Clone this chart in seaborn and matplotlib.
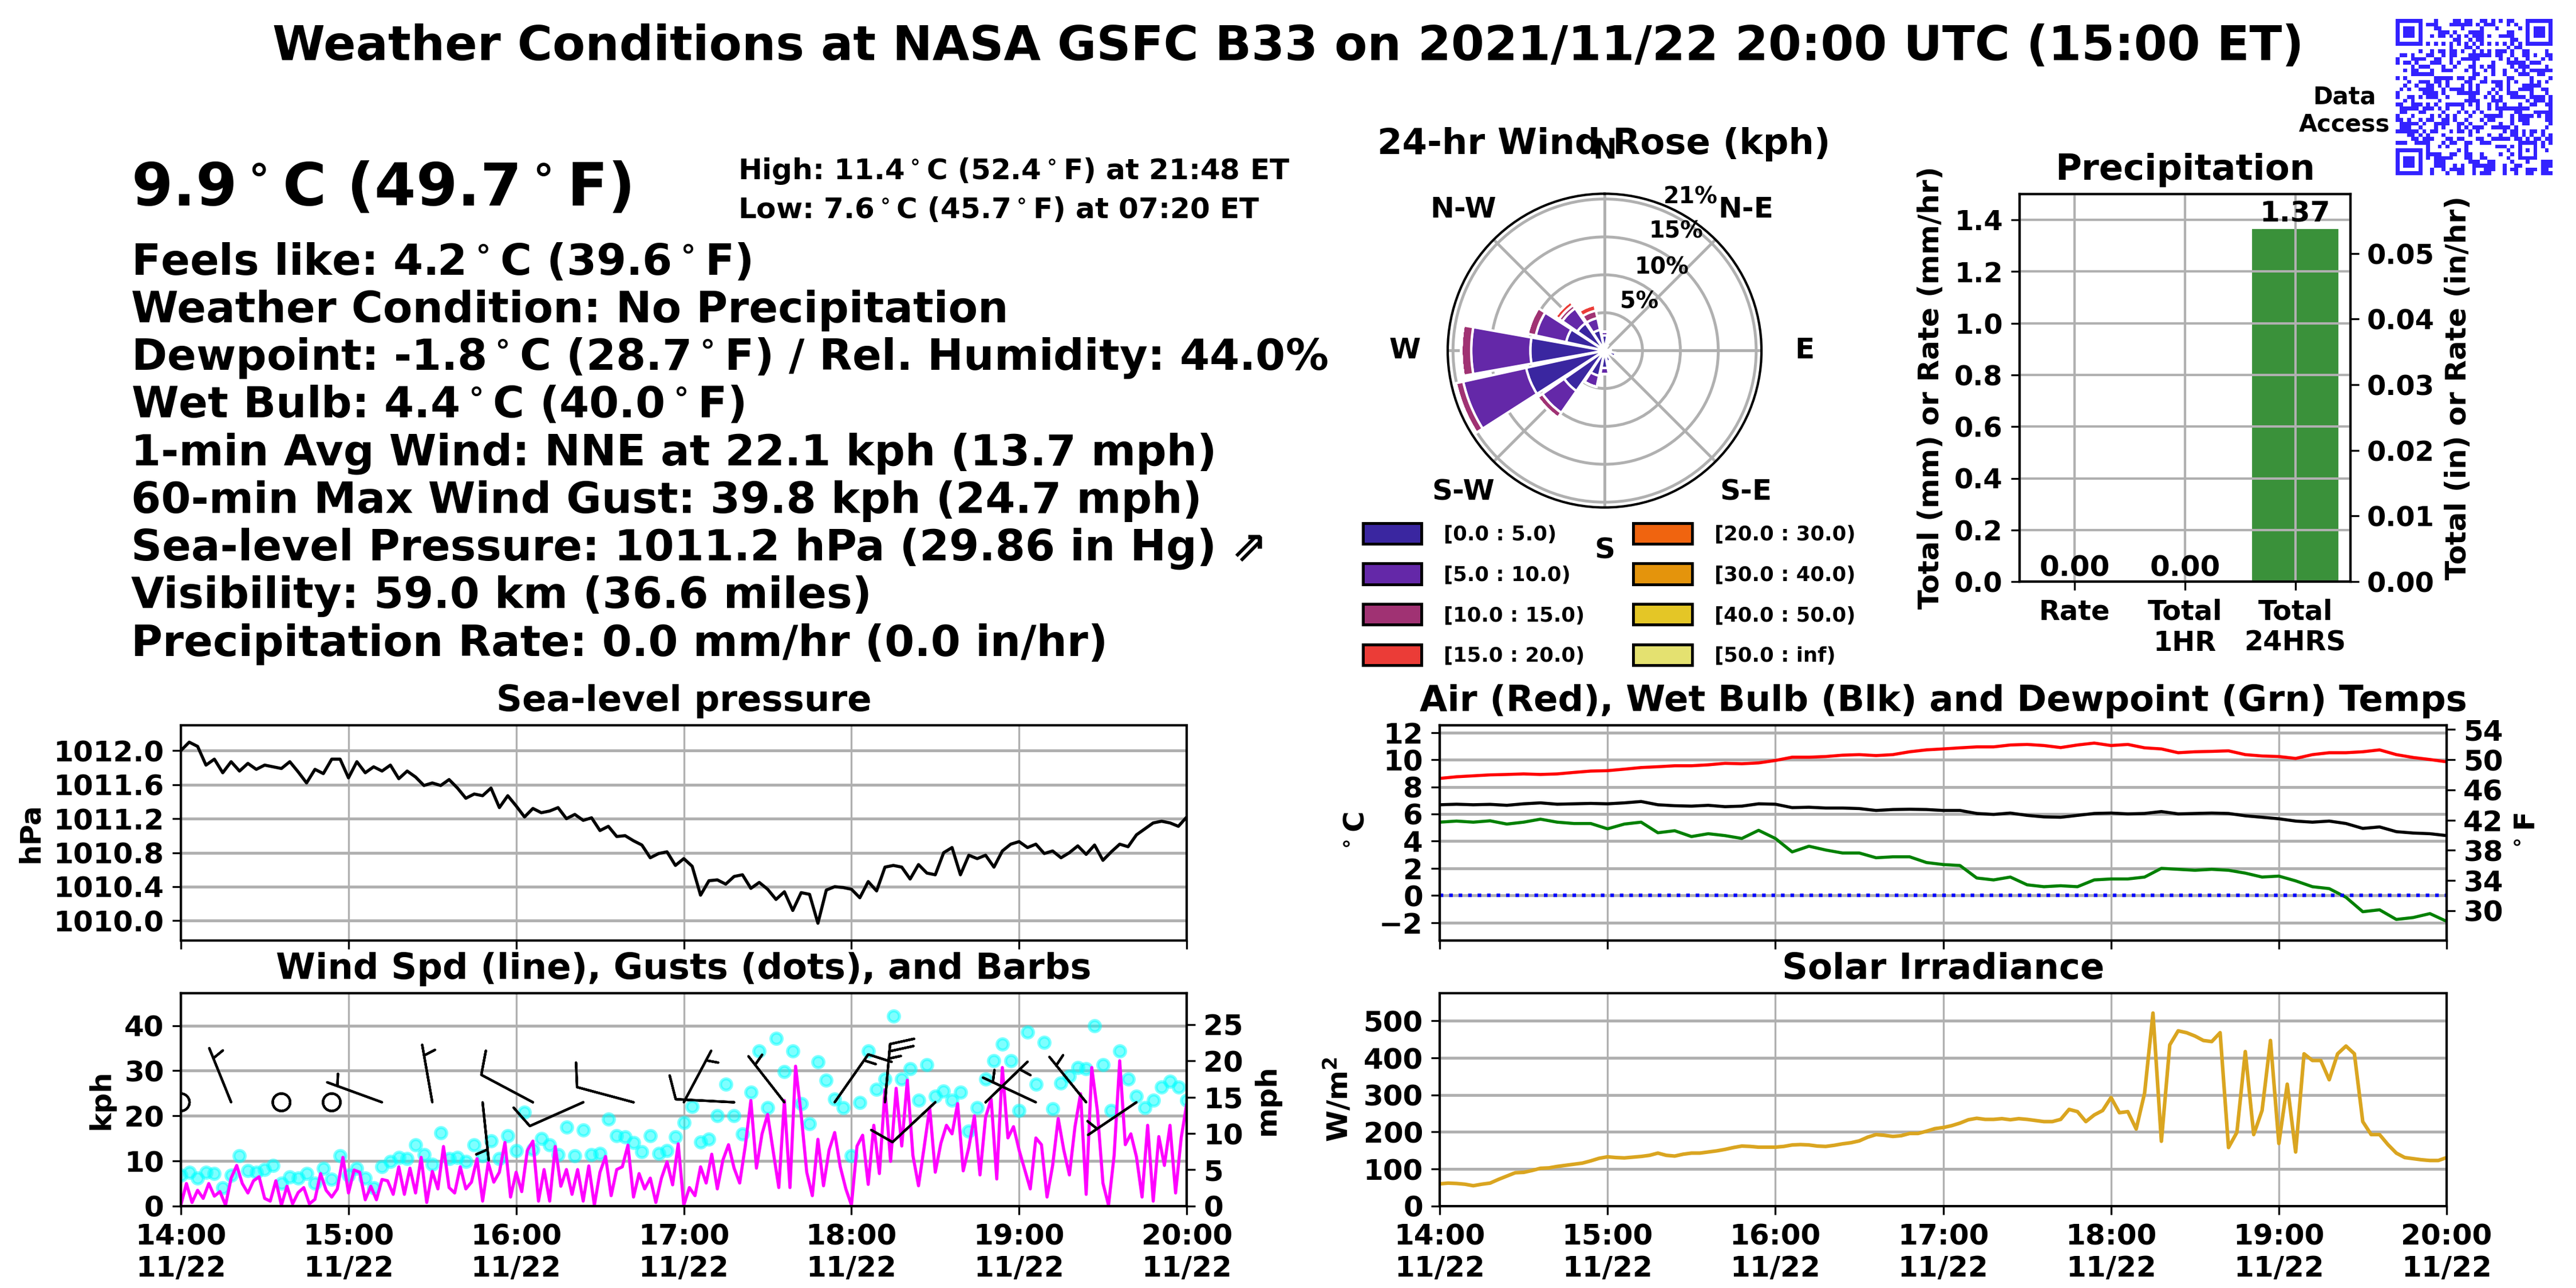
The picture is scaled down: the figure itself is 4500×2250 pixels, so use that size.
import numpy as np
import pandas as pd
import matplotlib
matplotlib.use('Agg')
import matplotlib.pyplot as plt
import matplotlib.dates as mdates
from matplotlib.colors import ListedColormap
from matplotlib.patches import Patch
from matplotlib.ticker import FormatStrFormatter
import seaborn as sns

# ---------------- data ----------------
title = 'Weather Conditions at NASA GSFC B33 on 2021/11/22 20:00 UTC (15:00 ET)'
now_temp = '9.9$^\\circ$C (49.7$^\\circ$F)'
hi_lo = ['High: 11.4$^\\circ$C (52.4$^\\circ$F) at 21:48 ET',
         'Low: 7.6$^\\circ$C (45.7$^\\circ$F) at 07:20 ET']
info_lines = ['Feels like: 4.2$^\\circ$C (39.6$^\\circ$F)',
              'Weather Condition: No Precipitation',
              'Dewpoint: -1.8$^\\circ$C (28.7$^\\circ$F) / Rel. Humidity: 44.0%',
              'Wet Bulb: 4.4$^\\circ$C (40.0$^\\circ$F)',
              '1-min Avg Wind: NNE at 22.1 kph (13.7 mph)',
              '60-min Max Wind Gust: 39.8 kph (24.7 mph)',
              'Sea-level Pressure: 1011.2 hPa (29.86 in Hg) \u21d7',
              'Visibility: 59.0 km (36.6 miles)',
              'Precipitation Rate: 0.0 mm/hr (0.0 in/hr)']

start = pd.Timestamp('2021-11-22 14:00')
end = pd.Timestamp('2021-11-22 20:00')

# sea-level pressure (hPa), every 3 min
pressure = [1012.00, 1012.10, 1012.05, 1011.83, 1011.90, 1011.74, 1011.87, 1011.76, 1011.85, 1011.78,
            1011.83, 1011.81, 1011.79, 1011.87, 1011.75, 1011.62, 1011.78, 1011.73, 1011.90, 1011.90,
            1011.68, 1011.87, 1011.74, 1011.81, 1011.76, 1011.83, 1011.67, 1011.76, 1011.69, 1011.59,
            1011.62, 1011.59, 1011.66, 1011.56, 1011.44, 1011.49, 1011.47, 1011.56, 1011.33, 1011.47,
            1011.35, 1011.22, 1011.32, 1011.27, 1011.29, 1011.33, 1011.20, 1011.25, 1011.18, 1011.21,
            1011.06, 1011.11, 1010.99, 1011.00, 1010.94, 1010.89, 1010.74, 1010.79, 1010.81, 1010.65,
            1010.73, 1010.64, 1010.30, 1010.47, 1010.48, 1010.43, 1010.52, 1010.54, 1010.38, 1010.45,
            1010.37, 1010.25, 1010.34, 1010.12, 1010.33, 1010.31, 1009.97, 1010.36, 1010.40, 1010.39,
            1010.37, 1010.27, 1010.46, 1010.35, 1010.63, 1010.65, 1010.63, 1010.49, 1010.66, 1010.56,
            1010.54, 1010.80, 1010.86, 1010.54, 1010.77, 1010.73, 1010.77, 1010.63, 1010.82, 1010.90,
            1010.93, 1010.86, 1010.90, 1010.79, 1010.82, 1010.74, 1010.80, 1010.88, 1010.78, 1010.89,
            1010.71, 1010.81, 1010.90, 1010.87, 1011.01, 1011.08, 1011.15, 1011.17, 1011.15, 1011.11,
            1011.22]

# 1-min average wind speed (kph), every 2 min
wind_kph = [0.2, 5.0, 0.8, 3.5, 1.7, 5.0, 2.2, 3.2, 0.2, 6.2, 9.0, 5.0, 2.9, 5.6, 6.5, 1.7, 1.1, 5.6, 0.2, 4.4,
            0.5, 3.0, 4.1, 0.5, 1.5, 7.2, 3.5, 2.0, 3.8, 10.8,
            2.9, 8.0, 7.5, 1.4, 4.4, 1.4, 5.9, 5.6, 2.6, 8.7, 2.6, 8.4, 2.9, 10.8, 0.8, 7.7, 3.8, 13.2, 4.1, 2.9,
            8.7, 3.8, 5.3, 10.5, 1.1, 9.6, 5.3, 7.5, 14.1, 2.0,
            7.5, 3.2, 12.3, 14.4, 1.1, 8.1, 1.1, 13.2, 4.4, 8.1, 2.6, 8.1, 1.1, 8.9, 0.2, 7.5, 11.0, 2.3, 8.1, 8.7,
            13.5, 2.0, 7.2, 3.8, 6.2, 0.8, 6.2, 9.8, 4.7, 13.8,
            0.2, 4.1, 2.3, 8.7, 5.1, 11.5, 3.8, 10.2, 13.6, 8.4, 5.1, 13.3, 23.4, 8.4, 16.0, 20.3, 12.1, 4.1, 23.4, 4.1,
            31.0, 20.3, 7.5, 2.3, 14.8, 4.5, 12.4, 16.3, 8.7, 3.8,
            0.2, 13.3, 15.7, 4.8, 17.9, 7.2, 25.8, 9.9, 26.1, 13.3, 27.9, 11.2, 4.5, 13.0, 21.8, 7.5, 13.9, 17.9, 16.0, 22.7,
            7.8, 13.0, 20.0, 6.9, 19.7, 23.7, 6.0, 30.7, 15.1, 17.6,
            12.4, 8.1, 3.8, 15.1, 13.6, 2.0, 9.0, 19.4, 12.4, 6.9, 17.6, 24.9, 2.6, 30.7, 21.2, 5.1, 0.2, 11.2, 32.2, 13.6,
            16.0, 10.9, 2.0, 17.9, 1.1, 15.4, 9.0, 17.9, 2.9, 15.1, 22.7]

# wind gusts (kph), every 3 min
gust_kph = [6.8, 7.5, 6.2, 7.5, 7.2, 4.1, 6.8, 11.1, 7.8, 7.5,
            8.1, 9.0, 5.0, 6.5, 6.2, 7.2, 5.0, 8.4, 5.9, 11.2,
            6.8, 8.4, 6.2, 4.1, 8.7, 9.9, 10.8, 10.5, 13.5, 11.4,
            9.3, 16.2, 10.5, 10.8, 9.9, 13.5, 11.1, 14.4, 10.5, 15.6,
            12.3, 20.8, 12.6, 15.0, 13.5, 11.4, 17.5, 11.1, 16.8, 11.4,
            11.7, 19.3, 15.6, 15.3, 14.1, 12.0, 15.6, 11.7, 12.3, 15.3,
            18.5, 22.1, 14.2, 14.8, 20.0, 27.0, 20.0, 16.0, 25.2, 34.3,
            21.8, 37.1, 29.8, 34.3, 22.7, 18.2, 31.9, 27.9, 23.7, 21.8,
            11.2, 23.0, 34.3, 25.8, 28.2, 42.1, 28.2, 30.4, 23.4, 31.3,
            24.3, 25.5, 23.4, 25.2, 16.6, 21.8, 28.2, 32.2, 35.9, 32.2,
            21.2, 38.6, 27.0, 36.3, 21.5, 27.3, 28.8, 30.7, 30.4, 39.9,
            31.3, 21.2, 34.3, 28.2, 24.3, 21.8, 23.4, 26.4, 27.6, 26.4,
            23.4]

# wind barbs every 18 min: direction wind comes from (deg) and barb speed
barb_dir = [0, 338, 0, 0, 290, 350, 174, 298, 246, 285, 28, 273, 322, 35, 5, 227, 46, 295, 321, 236]
barb_spd = [0, 5, 0, 0, 5, 5, 5, 10, 10, 10, 5, 10, 5, 15, 25, 10, 5, 5, 5, 5]

# temperatures (C), every 6 min
air_c = [8.62, 8.74, 8.81, 8.88, 8.91, 8.95, 8.91, 8.95, 9.06, 9.16,
         9.19, 9.30, 9.42, 9.48, 9.55, 9.55, 9.62, 9.73, 9.70, 9.76,
         9.94, 10.18, 10.18, 10.23, 10.33, 10.37, 10.30, 10.37, 10.58, 10.72,
         10.79, 10.87, 10.94, 10.94, 11.08, 11.12, 11.04, 10.89, 11.08, 11.22,
         11.04, 11.12, 10.87, 10.79, 10.51, 10.58, 10.61, 10.65, 10.37, 10.27,
         10.23, 10.09, 10.37, 10.51, 10.51, 10.58, 10.72, 10.37, 10.16, 10.01,
         9.84]
wetbulb_c = [6.68, 6.72, 6.68, 6.71, 6.64, 6.75, 6.82, 6.72, 6.75, 6.78,
             6.75, 6.82, 6.92, 6.68, 6.61, 6.58, 6.64, 6.54, 6.58, 6.75,
             6.72, 6.47, 6.50, 6.44, 6.44, 6.40, 6.26, 6.33, 6.35, 6.33,
             6.26, 6.26, 6.04, 5.97, 6.07, 5.90, 5.79, 5.76, 5.90, 6.04,
             6.07, 6.01, 6.04, 6.18, 6.01, 6.04, 6.07, 6.04, 5.87, 5.76,
             5.65, 5.48, 5.40, 5.48, 5.30, 4.94, 5.05, 4.70, 4.60, 4.55,
             4.41]
dewpoint_c = [5.40, 5.48, 5.40, 5.50, 5.26, 5.40, 5.62, 5.40, 5.30, 5.30,
              4.91, 5.26, 5.40, 4.62, 4.77, 4.34, 4.55, 4.41, 4.20, 4.80,
              4.20, 3.21, 3.63, 3.35, 3.13, 3.13, 2.78, 2.85, 2.85, 2.43,
              2.28, 2.21, 1.29, 1.15, 1.36, 0.79, 0.65, 0.72, 0.65, 1.15,
              1.22, 1.22, 1.36, 2.00, 1.93, 1.86, 1.93, 1.86, 1.65, 1.36,
              1.43, 1.08, 0.65, 0.51, -0.13, -1.19, -1.05, -1.76, -1.62, -1.33,
              -1.90]

# solar irradiance (W/m2), every 3 min
solar = [60, 62, 61, 59, 55, 59, 62, 72, 81, 90,
         91, 96, 102, 103, 107, 110, 113, 116, 122, 129,
         133, 131, 130, 132, 134, 137, 143, 137, 135, 140,
         143, 143, 146, 149, 153, 158, 162, 161, 159, 159,
         159, 161, 165, 166, 165, 162, 161, 164, 168, 171,
         176, 186, 193, 191, 188, 190, 196, 196, 202, 209,
         212, 217, 224, 233, 237, 234, 234, 236, 233, 236,
         234, 231, 228, 228, 234, 261, 255, 228, 246, 258,
         293, 252, 255, 208, 305, 521, 175, 435, 473, 468,
         459, 447, 444, 468, 158, 199, 417, 193, 258, 447,
         169, 329, 146, 411, 393, 393, 341, 411, 432, 411,
         228, 193, 193, 166, 143, 131, 128, 125, 123, 123,
         131]

# wind rose: % of time per direction sector (N, NNE, ... NNW) per speed bin
rose_dirs = ['N', 'N-E', 'E', 'S-E', 'S', 'S-W', 'W', 'N-W']
rose_bins = ['[0.0 : 5.0)', '[5.0 : 10.0)', '[10.0 : 15.0)', '[15.0 : 20.0)',
             '[20.0 : 30.0)', '[30.0 : 40.0)', '[40.0 : 50.0)', '[50.0 : inf)']
rose_colors = ['#3a26a0', '#6428a8', '#a03273', '#eb3c37', '#f0640f', '#e4940c', '#e4c626', '#e4e170']
rose_0_5 = [2.0, 0.8, 0.3, 0.3, 0.8, 1.5, 0.5, 1.5, 2.3, 3.4, 6.5, 10.6, 9.8, 5.2, 4.4, 2.8]
rose_5_10 = [0.5, 0.0, 0.0, 0.0, 0.0, 0.3, 0.0, 0.3, 0.8, 1.5, 3.5, 8.5, 7.8, 4.1, 2.4, 1.6]
rose_10_15 = [0.0, 0.0, 0.0, 0.0, 0.0, 0.0, 0.0, 0.0, 0.0, 0.0, 0.8, 1.0, 1.3, 1.1, 0.5, 1.0]
rose_15_20 = [0.0, 0.0, 0.0, 0.0, 0.0, 0.0, 0.0, 0.0, 0.0, 0.0, 0.0, 0.0, 0.0, 0.0, 0.6, 0.8]
rose_20_30 = [0.0] * 16
rose_30_40 = [0.0] * 16
rose_40_50 = [0.0] * 16
rose_50_up = [0.0] * 16
rose_ticks = [5, 10, 15, 20]
rose_tick_labels = ['5%', '10%', '15%', '21%']

# precipitation
precip_cats = ['Rate', 'Total\n1HR', 'Total\n24HRS']
precip_mm = [0.00, 0.00, 1.37]

# QR code modules ("Data Access")
qr_rows = [
    "1111111 000 1 0000 11 0 11 00 11 0 1 0 1 0 11 000 1111111",
    "1000001 0 111 000 1111 11 0 1 0 111 000 1 0 1 00 1000001",
    "1011101 000 11 00000 1 0000 1 000 1 00000 1 0 1011101",
    "1011101 0000 111 0 1 000 1111 000000 11 000 1011101",
    "1011101 00 1 0 11 0 1 0 1 0 1 0 111 0 1 00 1111 000 1011101",
    "1000001 00000000 11 00 1 0 11 0000000 11 00 1000001",
    "1111111 0 1010101010101010101010101 0 1111111",
    "00000000000000 1 000 11 0 1 0000000 1 0 11 00000000",
    "000000 1 00 1 0 11 0 11 0 1 00 1 0 1 0 1 0 111 0 1 00 11 0000 1 0",
    "0 11 0 1 000 11 00 1 0 11 000 111111 0 11 00 1 00 11 0 1 00 11",
    "1 000 1111 00 11 00 1 00 11111 00000 1 0 1 0 1 00 1 000 1 0 1",
    "1 0 11 0 1 000 111 00 1 0 1 000 1 0000 1 000 11111 0 111 000",
    "0000 1 0 111 000 1 00 1 000 11 0 1 0 11 0000 1 0 111 0000 1 0",
    "00 1 0 11 000 1 00 111 000 1 0 1 00 1 0 1 00 1 00 1 0 1 0 111111",
    "0000 111111 0000000000 11 000 1 00 1 000 111 00 11 00",
    "1 0 1 0000000 11111 0 11 0 11 00 1 00000 11 0000 1 0000 1",
    "000 1 00 111 0 11 0 1 0000 11 00 11 0 111 0 1 0 1 000 1 0 1 0 1 0",
    "00 1 00 1 00 11 0 1 0 1 000 1 0 1 0 1 0000 11 0 1 000 11111 000",
    "0 1 0 1 00 1111 00 1 0 1111 0 1 0 1 000 1 0 1 0 1 00 1111 00 11 0",
    "1 000000 1111 0 1 000 111111 00 1 0 1 00 111 000 1 000 1 0",
    "1 00 11 0 1 0 111 00 1 00000 11 00 1 0 1 0 1 00 1111 0 1111 0 1",
    "00 1 0 1 000000 1 000000 1111 000 111 000000 1 0 111 0 1",
    "11 00 111 0 1 0 1 00 11111 0 1 0 1 00 1 0 1 0 1 000 1 00 11 00 11",
    "0 11111 0 111 0 1 0 1 000 1 000 1 00 1 0 111111111 00000 1",
    "0 11 000 11 0000 1 000 1 0 1 0 1 0 1 0000 1 000 11 000 11111",
    "1 000 1 0000 1 0 1 0 1 0 1 000 1 000 11111 00 1 0 1111 0 1 0 11",
    "11 0 1 00 1 0 11 00 11 0 1 00 1 000 1 0 11 0000 1 0 111 0000 11",
    "0 11111 0 1 00 1111 00 11 0 1 000 1 000 1 00 1 00 11 00000 1",
    "0 111 00 1 000 1 0 1 000 1 0 1 0 111 00 11111 0 1 0000000 1 0",
    "111111 0 1 0 11 000 1 0 11 0 1 0 1 000000 1 0 11 0 1 0 11 0 1 00",
    "000 11 0 1 0 1 000 1 000000 1 0000 1 00 1 00 11 0 1 0 1 00 1 0 1",
    "0000 11 0 111 000 11 0 11 000 11 00 11111 0 11 0 1 0 11 0 11",
    "111 00 1111 000 1 0 11 00 11 00 111 0000000 11111 0 1 0 1",
    "00000000 1 00 1 0 1 0000 1 0000000 111 0 1 0 1 000 1 0 1 00",
    "1111111 0 1 0000000 1 0 1 0000000000 1 00 10101 0 0 1 0",
    "1000001 0 1111 00 11 00 11 00 1 0000 1 00 1 0 10001 0000",
    "1011101 0 1 0 11111 000 11 00 11 00000 1 00 11111 0000",
    "1011101 000 111 000000 111 00 11 0000 1 000 1 000 111",
    "1011101 000 111 00 1 0 1 00 111111 00 1 00 11 00000 111",
    "1000001 00 1 00 1 0 1111 00 1 00 111 00 1 0 11 00 111 0 11 0",
    "1111111 00 1 000 1 00 11 00 1 0 111 000 1 00 1 00 11 00 111",
]

# ---------------- style ----------------
sns.set_style('ticks')
plt.rcParams['font.family'] = ['DejaVu Sans']
plt.rcParams['font.weight'] = 'bold'
plt.rcParams['axes.titleweight'] = 'bold'
plt.rcParams['axes.labelweight'] = 'bold'
plt.rcParams['text.color'] = 'black'
plt.rcParams['axes.labelcolor'] = 'black'
plt.rcParams['axes.edgecolor'] = 'black'
plt.rcParams['xtick.color'] = 'black'
plt.rcParams['ytick.color'] = 'black'
plt.rcParams['axes.linewidth'] = 1.0
plt.rcParams['xtick.labelsize'] = 12
plt.rcParams['ytick.labelsize'] = 12
plt.rcParams['axes.titlesize'] = 15
plt.rcParams['axes.labelsize'] = 12
plt.rcParams['mathtext.default'] = 'bf'

GRID = '#b0b0b0'


def time_axis(ax, labels):
    ax.set_xlim(start, end)
    ax.xaxis.set_major_locator(mdates.HourLocator())
    ax.xaxis.set_major_formatter(mdates.DateFormatter('%H:%M\n%m/%d'))
    ax.grid(axis='x', color=GRID, lw=0.8)
    ax.grid(axis='y', color=GRID, lw=1.2)
    ax.tick_params(labelbottom=labels)
    ax.set_xlabel('')


fig = plt.figure(figsize=(15, 7.5), dpi=300)

# ---------------- header text ----------------
fig.text(0.5, 0.964, title, ha='center', va='center', fontsize=20)
fig.text(0.051, 0.853, now_temp, ha='left', va='center', fontsize=25)
fig.text(0.2865, 0.867, hi_lo[0], ha='left', va='center', fontsize=12)
fig.text(0.2865, 0.837, hi_lo[1], ha='left', va='center', fontsize=12)
for i, line in enumerate(info_lines):
    fig.text(0.051, 0.796 - i * 0.0370, line, ha='left', va='center', fontsize=18)
fig.text(0.910, 0.914, 'Data\nAccess', ha='center', va='center', fontsize=10, multialignment='center')

# ---------------- QR code ----------------
ax_qr = fig.add_axes([0.930, 0.864, 0.0607, 0.1213])
qr = np.array([[int(c) for c in r.replace(' ', '').ljust(41, '0')[:41]] for r in qr_rows])
ax_qr.imshow(qr, cmap=ListedColormap(['white', '#3322ff']), interpolation='nearest', aspect='auto')
ax_qr.axis('off')

# ---------------- wind rose ----------------
ax_r = fig.add_axes([0.562, 0.606, 0.1218, 0.2436], projection='polar')
ax_r.set_theta_zero_location('N')
ax_r.set_theta_direction(-1)
theta = np.deg2rad(np.arange(16) * 22.5)
bottom = np.zeros(16)
rose_table = [rose_0_5, rose_5_10, rose_10_15, rose_15_20, rose_20_30, rose_30_40, rose_40_50, rose_50_up]
for vals, col in zip(rose_table, rose_colors):
    vals = np.array(vals)
    ax_r.bar(theta, vals, width=np.deg2rad(22.5) * 0.9, bottom=bottom, color=col,
             edgecolor='white', linewidth=1.0, zorder=3)
    bottom = bottom + vals
ax_r.set_ylim(0, 20.7)
ax_r.set_yticks(rose_ticks)
ax_r.set_yticklabels([])
ax_r.set_xticks(np.deg2rad(np.arange(8) * 45))
ax_r.set_xticklabels(rose_dirs)
ax_r.tick_params(axis='x', pad=7.5, labelsize=12)
ax_r.grid(color=GRID, lw=1.2)
for ang, r, lab in zip([35.5, 34.7, 30.9, 29.2], [7.85, 13.3, 18.3, 23.2], rose_tick_labels):
    ax_r.text(np.deg2rad(ang), r, lab, ha='center', va='center', fontsize=9.5, clip_on=False, zorder=5)
fig.text(0.6225, 0.888, '24-hr Wind Rose (kph)', ha='center', va='center', fontsize=15)
handles = [Patch(facecolor=c, edgecolor='black', lw=1.2, label=l) for c, l in zip(rose_colors, rose_bins)]
fig.legend(handles=handles, ncol=2, loc='upper left', bbox_to_anchor=(0.529, 0.594),
           frameon=False, fontsize=8.5, handlelength=2.9, handleheight=1.2, handletextpad=1.1,
           labelspacing=0.95, columnspacing=2.4, borderpad=0, borderaxespad=0)

# ---------------- precipitation ----------------
ax_pr = fig.add_axes([0.784, 0.5484, 0.1284, 0.301])
sns.barplot(x=precip_cats, y=precip_mm, color='#3a913a', saturation=1, width=0.8, ax=ax_pr)
ax_pr.bar_label(ax_pr.containers[0], fmt='%.2f', fontsize=12, padding=0)
ax_pr.set_ylim(0, 1.5)
ax_pr.set_yticks(np.arange(0, 1.41, 0.2))
ax_pr.yaxis.set_major_formatter(FormatStrFormatter('%.1f'))
ax_pr.set_axisbelow(False)
ax_pr.grid(True, color=GRID, lw=1.0)
ax_pr.tick_params(labelsize=11.5)
ax_pr.set_title('Precipitation', fontsize=15)
ax_pr.set_ylabel('Total (mm) or Rate (mm/hr)', fontsize=12)
ax_pr2 = ax_pr.twinx()
ax_pr2.set_ylim(0, 1.5 / 25.4)
ax_pr2.set_yticks(np.arange(0, 0.051, 0.01))
ax_pr2.yaxis.set_major_formatter(FormatStrFormatter('%.2f'))
ax_pr2.tick_params(labelsize=11.5)
ax_pr2.set_ylabel('Total (in) or Rate (in/hr)', fontsize=12)

# ---------------- time axes ----------------
t2 = pd.date_range(start, end, freq='2min')
t3 = pd.date_range(start, end, freq='3min')
t6 = pd.date_range(start, end, freq='6min')
t18 = pd.date_range(start, periods=len(barb_dir), freq='18min')

# sea-level pressure
ax_p = fig.add_axes([0.0702, 0.270, 0.3905, 0.167])
sns.lineplot(x=t3, y=pressure, color='black', lw=1.3, ax=ax_p)
ax_p.set_ylim(1009.77, 1012.30)
ax_p.set_yticks(np.arange(1010.0, 1012.01, 0.4))
ax_p.yaxis.set_major_formatter(FormatStrFormatter('%.1f'))
ax_p.set_ylabel('hPa')
ax_p.set_title('Sea-level pressure')
time_axis(ax_p, False)

# wind
ax_w = fig.add_axes([0.0702, 0.0636, 0.3905, 0.1654])
sns.scatterplot(x=t3, y=gust_kph, color='cyan', s=22, alpha=0.5, edgecolor='cyan', linewidth=1.3,
                ax=ax_w, zorder=2)
sns.lineplot(x=t2, y=wind_kph, color='magenta', lw=1.3, ax=ax_w, zorder=3)
bd = np.deg2rad(barb_dir)
bs = np.array(barb_spd, dtype=float)
ax_w.barbs(mdates.date2num(t18), np.full(len(bd), 23.0), -bs * np.sin(bd), -bs * np.cos(bd),
           length=7, color='black', lw=1.0, zorder=4)
ax_w.set_ylim(0, 47.2)
ax_w.set_yticks(range(0, 41, 10))
ax_w.set_ylabel('kph')
ax_w.set_title('Wind Spd (line), Gusts (dots), and Barbs')
time_axis(ax_w, True)
ax_w2 = ax_w.twinx()
ax_w2.set_ylim(0, 47.2 / 1.609344)
ax_w2.set_yticks(range(0, 26, 5))
ax_w2.set_ylabel('mph')

# temperatures
ax_t = fig.add_axes([0.5589, 0.270, 0.3909, 0.167])
sns.lineplot(x=t6, y=air_c, color='red', lw=1.3, ax=ax_t)
sns.lineplot(x=t6, y=wetbulb_c, color='black', lw=1.3, ax=ax_t)
sns.lineplot(x=t6, y=dewpoint_c, color='green', lw=1.3, ax=ax_t)
ax_t.axhline(0, color='blue', ls=':', lw=1.5)
ax_t.set_ylim(-3.29, 12.54)
ax_t.set_yticks(range(-2, 13, 2))
ax_t.set_ylabel('$^\\circ$C')
ax_t.set_title('Air (Red), Wet Bulb (Blk) and Dewpoint (Grn) Temps')
time_axis(ax_t, False)
ax_t2 = ax_t.twinx()
ax_t2.set_ylim(-3.29 * 1.8 + 32, 12.54 * 1.8 + 32)
ax_t2.set_yticks(range(30, 55, 4))
ax_t2.set_ylabel('$^\\circ$F')

# solar
ax_s = fig.add_axes([0.5589, 0.0636, 0.3909, 0.1654])
sns.lineplot(x=t3, y=solar, color='goldenrod', lw=1.5, ax=ax_s)
ax_s.set_ylim(0, 575)
ax_s.set_yticks(range(0, 501, 100))
ax_s.set_ylabel('W/m$^2$')
ax_s.set_title('Solar Irradiance')
time_axis(ax_s, True)

fig.savefig('out.png', dpi=300)
